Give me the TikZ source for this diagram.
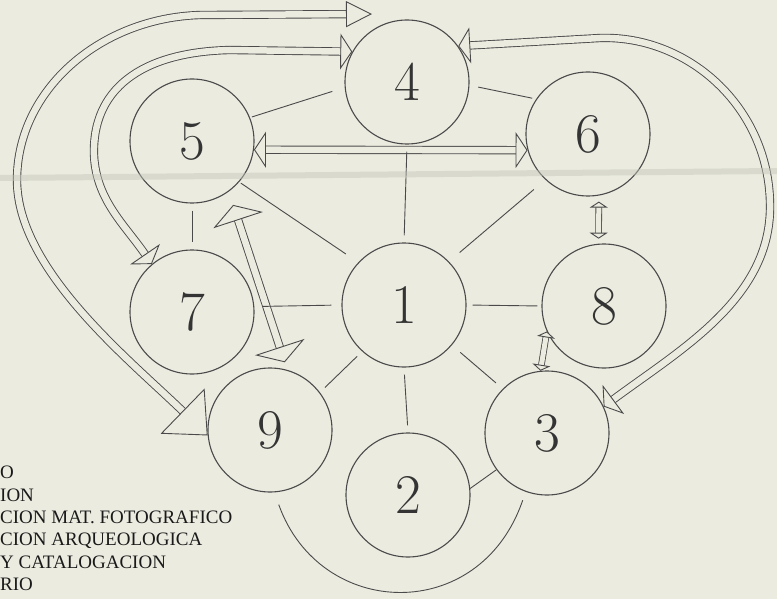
\documentclass[tikz,border=0pt]{standalone}
\usepackage{fontspec}
\usepackage{tikz}
\usetikzlibrary{arrows.meta}
\newfontfamily\legendfont{Liberation Serif}
\definecolor{paper}{HTML}{EBEBE0}
\definecolor{ink}{HTML}{4A4A4A}
\definecolor{crease}{HTML}{C4C6B8}
\tikzset{
  medhead/.tip={Triangle[length=12pt,width=36pt,fill=paper,line width'=0.9pt]},
  widehead/.tip={Triangle[length=16pt,width=52pt,fill=paper,line width'=0.9pt]},
  hugehead/.tip={Triangle[length=35pt,width=63pt,fill=paper,line width'=0.9pt]},
  tophead/.tip={Triangle[length=26pt,width=26pt,fill=paper,line width'=0.9pt]},
  smallhead/.tip={Triangle[length=6pt,width=18pt,fill=paper,line width'=0.9pt]}
}

\begin{document}
\begin{tikzpicture}[x=1pt,y=-1pt,
  disc/.style={circle,draw=ink,line width=1.1pt,minimum size=124pt,inner sep=0pt,text=ink!70!black,font=\fontsize{56}{56}\selectfont},
  link/.style={draw=ink,line width=0.9pt,shorten <=7pt,shorten >=7pt},
  dbl/.style={draw=ink,line width=0.9pt,double=paper,double distance=6.5pt},
  thin dbl/.style={draw=ink,line width=0.8pt,double=paper,double distance=5pt}]
\fill[paper] (0,0) rectangle (777,599);
\useasboundingbox (0,0) rectangle (777,599);
\node[disc] (n4) at (407,82) {4};
\node[disc] (n5) at (192,141) {5};
\node[disc] (n6) at (588,134) {6};
\node[disc] (n7) at (192,312) {7};
\node[disc] (n1) at (404,305) {1};
\node[disc] (n8) at (604,306) {8};
\node[disc] (n9) at (270,430) {9};
\node[disc] (n3) at (547,433) {3};
\node[disc] (n2) at (408,495) {2};
\coordinate (t4) at (372,14);
\draw[dbl,{tophead}-{hugehead}] (t4) -- (200,15) .. controls (100,18) and (17,90) .. (17,180) .. controls (17,270) and (130,360) .. (n9.185);
\draw[dbl,{medhead}-{medhead}] (n4.151) -- (230,50) .. controls (140,52) and (92,90) .. (94,155) .. controls (96,200) and (125,225) .. (n7.130);
\draw[dbl,{medhead}-{medhead}] (n4.35) -- (600,38) .. controls (690,35) and (772,110) .. (770,210) .. controls (768,300) and (680,350) .. (n3.25);
\draw[dbl,{medhead}-{medhead}] (n5.-8) -- (n6.195);
\draw[dbl,{widehead}-{widehead},shorten <=14pt,shorten >=8pt] (n5.-54) -- (n9.74);
\draw[thin dbl,{smallhead}-{smallhead},shorten <=6pt,shorten >=5pt] (n6.-80) -- (n8.95);
\draw[thin dbl,{smallhead}-{smallhead}] (n8.204) -- (n3.96);
\draw[link,shorten <=2pt,shorten >=13pt] (n5.22) -- (n4.185);
\draw[link,shorten <=9pt,shorten >=4pt] (n4.-3) -- (n6.146);
\draw[link] (n4.south) -- (n1.north);
\draw[link,shorten <=2pt,shorten >=15pt] (n5.-41) -- (n1.137);
\draw[link,shorten <=15pt,shorten >=14pt] (n6.227) -- (n1.44);
\draw[link] (n5.south) -- (n7.north);
\draw[link,shorten <=8pt,shorten >=10pt] (n7.5) -- (n1.west);
\draw[link,shorten <=6pt,shorten >=4pt] (n1.east) -- (n8.west);
\draw[link] (n1.228) -- (n9.37);
\draw[link] (n1.south) -- (n2.north);
\draw[link,shorten <=11pt,shorten >=9pt] (n1.-40) -- (n3.135);
\draw[link,shorten <=0pt,shorten >=0pt] (n2.6) -- (n3.216);
\draw[link,shorten <=13pt,shorten >=9pt] (n9.274) .. controls (320,620) and (480,625) .. (n3.250);
\node[anchor=north west,inner sep=0pt,align=left,text=ink!35!black,font=\legendfont\fontsize{19}{22.4}\selectfont] (legend) at (0,466) {O\\ION\\CION MAT. FOTOGRAFICO\\CION ARQUEOLOGICA\\Y CATALOGACION\\RIO};
\fill[crease,opacity=0.45] (0,175) -- (777,168) -- (777,174) -- (0,181) -- cycle;
\end{tikzpicture}
\end{document}
